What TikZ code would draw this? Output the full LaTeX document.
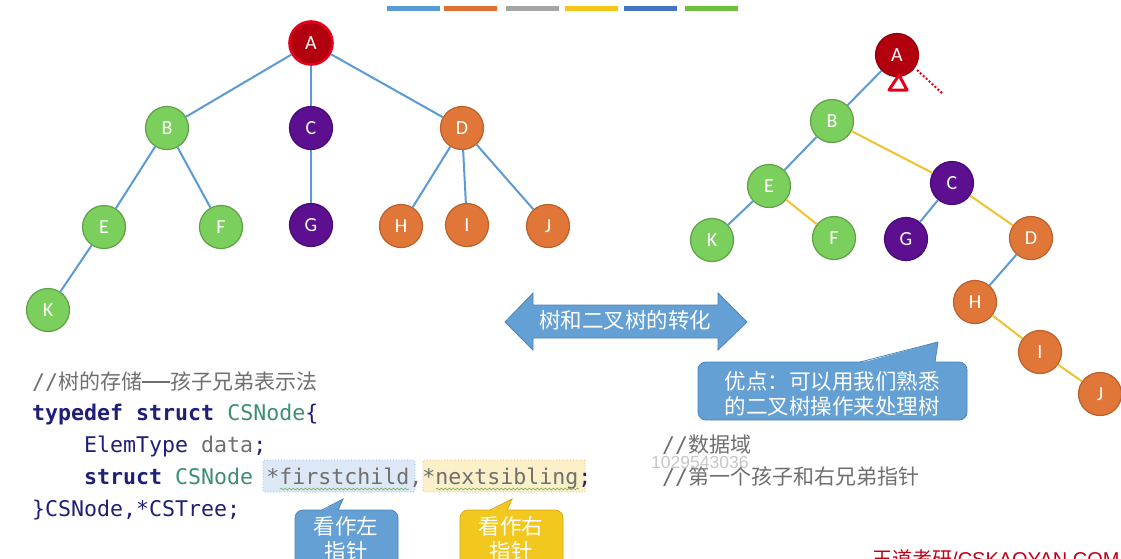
\documentclass[tikz,border=0pt]{standalone}
\usepackage{fontspec}
\setmonofont{DejaVu Sans Mono}
\newfontfamily\cjk{Noto Sans CJK SC}
\newfontfamily\lbl{Carlito}
\newfontfamily\wmfont{Liberation Sans}
\usepackage{xcolor}
\usepackage{tikz}
\usetikzlibrary{decorations.pathmorphing}

\definecolor{edgeblue}{HTML}{5B9BD5}
\definecolor{edgeyel}{HTML}{F2C22E}
\definecolor{tgreen}{HTML}{7BCF5C}
\definecolor{tgreenb}{HTML}{5FA046}
\definecolor{tpurple}{HTML}{5C0F8E}
\definecolor{tpurpleb}{HTML}{48097A}
\definecolor{torange}{HTML}{E07637}
\definecolor{torangeb}{HTML}{BC5F2A}
\definecolor{tred}{HTML}{B3000E}
\definecolor{scrib}{HTML}{E3001B}
\definecolor{kwnavy}{HTML}{1F1F7A}
\definecolor{kwteal}{HTML}{3E8E76}
\definecolor{cgray}{HTML}{6F6F6F}
\definecolor{callblue}{HTML}{64A0D4}
\definecolor{callblueb}{HTML}{4C84B8}
\definecolor{callyel}{HTML}{F2C81E}
\definecolor{callyelb}{HTML}{D0A915}
\definecolor{hlblue}{HTML}{DCE8F6}
\definecolor{hlyel}{HTML}{FBF0C8}
\definecolor{barA}{HTML}{5B9BD5}
\definecolor{barB}{HTML}{E07033}
\definecolor{barC}{HTML}{A5A5A5}
\definecolor{barD}{HTML}{F5C518}
\definecolor{barE}{HTML}{4472C4}
\definecolor{barF}{HTML}{70C040}

\newcommand{\kw}[1]{{\bfseries\color{kwnavy}#1}}
\newcommand{\ty}[1]{{\color{kwteal}#1}}
\newcommand{\gr}[1]{{\color{cgray}#1}}
\newcommand{\nv}[1]{{\color{kwnavy}#1}}
\newcommand{\cmt}[1]{{\cjk\fontsize{21}{26}\selectfont\color{cgray}#1}}

\begin{document}
\begin{tikzpicture}[x=1pt, y=-1pt,
    tnode/.style={circle, minimum size=43pt, inner sep=0pt, line width=1.2pt, text=white, font=\lbl\fontsize{20}{20}\selectfont},
    gnode/.style={tnode, fill=tgreen, draw=tgreenb},
    pnode/.style={tnode, fill=tpurple, draw=tpurpleb},
    onode/.style={tnode, fill=torange, draw=torangeb},
    rnode/.style={tnode, fill=tred, draw=scrib},
    bline/.style={draw=edgeblue, line width=2pt},
    yline/.style={draw=edgeyel, line width=2pt},
    code/.style={anchor=base west, inner sep=0pt, font=\ttfamily\fontsize{21.6}{26}\selectfont},
    bubble/.style={text=white, align=center, font=\cjk\fontsize{21.5}{24.5}\selectfont}]

    \clip (0,0) rectangle (1121,558);
    \fill[white] (0,0) rectangle (1121,558);

    \foreach \x/\c in {387/barA, 444/barB, 506/barC, 565/barD, 624/barE, 685/barF}
        \fill[\c] (\x,6) rectangle ++(53,5);

    % left tree
    \node [rnode, line width=2.6pt] (lA) at (311,43) {A};
    \node [gnode] (lB) at (167,128) {B};
    \node [pnode] (lC) at (311,128) {C};
    \node [onode] (lD) at (462,128) {D};
    \node [gnode] (lE) at (104,227) {E};
    \node [gnode] (lF) at (221,227) {F};
    \node [pnode] (lG) at (311,225) {G};
    \node [onode] (lH) at (401,226) {H};
    \node [onode] (lI) at (467,225) {I};
    \node [onode] (lJ) at (548,226) {J};
    \node [gnode] (lK) at (48,310) {K};

    \foreach \a/\b in {lA/lB, lA/lC, lA/lD, lB/lE, lB/lF, lC/lG, lD/lH, lD/lI, lD/lJ, lE/lK}
        \path [bline] (\a) -- (\b);

    % right tree
    \node [rnode, draw=tred!80!black, line width=1.2pt] (rA) at (897,55) {A};
    \node [gnode] (rB) at (832,121) {B};
    \node [pnode] (rC) at (952,183) {C};
    \node [gnode] (rE) at (769,186) {E};
    \node [gnode] (rK) at (712,240) {K};
    \node [gnode] (rF) at (834,238) {F};
    \node [pnode] (rG) at (906,239) {G};
    \node [onode] (rD) at (1031,238) {D};
    \node [onode] (rH) at (975,302) {H};
    \node [onode] (rI) at (1040,352) {I};
    \node [onode] (rJ) at (1100,394) {J};

    \foreach \a/\b in {rA/rB, rB/rE, rE/rK, rC/rG, rD/rH}
        \path [bline] (\a) -- (\b);
    \foreach \a/\b in {rB/rC, rE/rF, rC/rD, rH/rI, rI/rJ}
        \path [yline] (\a) -- (\b);

    \draw [scrib, line width=3pt, line join=round] (899,75) -- (889,90) -- (907,90) -- cycle;
    \draw [scrib, line width=2pt, dotted] (917,70) -- (943,94);

    % conversion arrow
    \path [draw=callblueb, fill=callblue, line width=0.8pt]
        (505,322) -- (533,293) -- (533,305) -- (718,305) -- (718,293) -- (747,322)
        -- (718,350) -- (718,338) -- (533,338) -- (533,350) -- cycle;
    \node [bubble] (conv) at (625,320) {树和二叉树的转化};

    % advantage callout
    \path [draw=callblueb, fill=callblue, line width=0.8pt, rounded corners=8pt] (698,362) rectangle (967,420);
    \fill [callblue] (859,363.5) -- (938,342) -- (935,363.5) -- cycle;
    \draw [callblueb, line width=0.8pt] (860,362) -- (938,342) -- (935,362);
    \node [bubble] (adv) at (832,394) {优点：可以用我们熟悉\\的二叉树操作来处理树};

    % code
    \path [draw=edgeblue!70, fill=hlblue, dotted, line width=0.8pt, rounded corners=2pt] (263,460) rectangle (415,492);
    \path [draw=torange!60, fill=hlyel, dotted, line width=0.8pt, rounded corners=2pt] (423,460) rectangle (585,492);
    \draw [tgreen!70!gray, line width=0.7pt, decorate, decoration={snake, amplitude=0.9pt, segment length=4pt}] (280,489) -- (409,489);
    \draw [tgreen!70!gray, line width=0.7pt, decorate, decoration={snake, amplitude=0.9pt, segment length=4pt}] (436,489) -- (579,489);

    \node [code] (cm1) at (32,389) {\gr{//}\cmt{树的存储{\color{cgray}\rule[6.5pt]{28pt}{1.4pt}}孩子兄弟表示法}};
    \node [code] (ln1) at (32,420) {\kw{typedef struct} \ty{CSNode}\nv{\{}};
    \node [code] (ln2) at (84,452) {\nv{ElemType} \gr{data}\nv{;}};
    \node [code] (ln3) at (84,484) {\kw{struct} \ty{CSNode} \gr{*firstchild,*nextsibling}\nv{;}};
    \node [code] (ln4) at (32,516) {\nv{\}CSNode,*CSTree;}};
    \node [code] (cm2) at (662,452) {\gr{//}\cmt{数据域}};
    \node [code] (cm3) at (662,484) {\gr{//}\cmt{第一个孩子和右兄弟指针}};

    % pointer callouts
    \path [draw=callblueb, fill=callblue, line width=0.8pt, rounded corners=8pt] (295,510) rectangle (398,590);
    \fill [callblue] (321,511.5) -- (343,499) -- (338,511.5) -- cycle;
    \draw [callblueb, line width=0.8pt] (322,510) -- (343,499) -- (338,510);
    \node [bubble] (lptr) at (346,539) {看作左\\指针};

    \path [draw=callyelb, fill=callyel, line width=0.8pt, rounded corners=8pt] (460,510) rectangle (563,590);
    \fill [callyel] (489,511.5) -- (512,499) -- (507,511.5) -- cycle;
    \draw [callyelb, line width=0.8pt] (490,510) -- (512,499) -- (507,510);
    \node [bubble] (rptr) at (511,539) {看作右\\指针};

    \node [anchor=base west, inner sep=0pt, text=black!22, font=\wmfont\fontsize{17.5}{18}\selectfont] (uid) at (651,468) {1029543036};
    \node [anchor=base west, inner sep=0pt, text=scrib!85!black, font=\wmfont\fontsize{20}{20}\selectfont] (site) at (872,566) {{\cjk 王道考研}/CSKAOYAN.COM};
\end{tikzpicture}
\end{document}
